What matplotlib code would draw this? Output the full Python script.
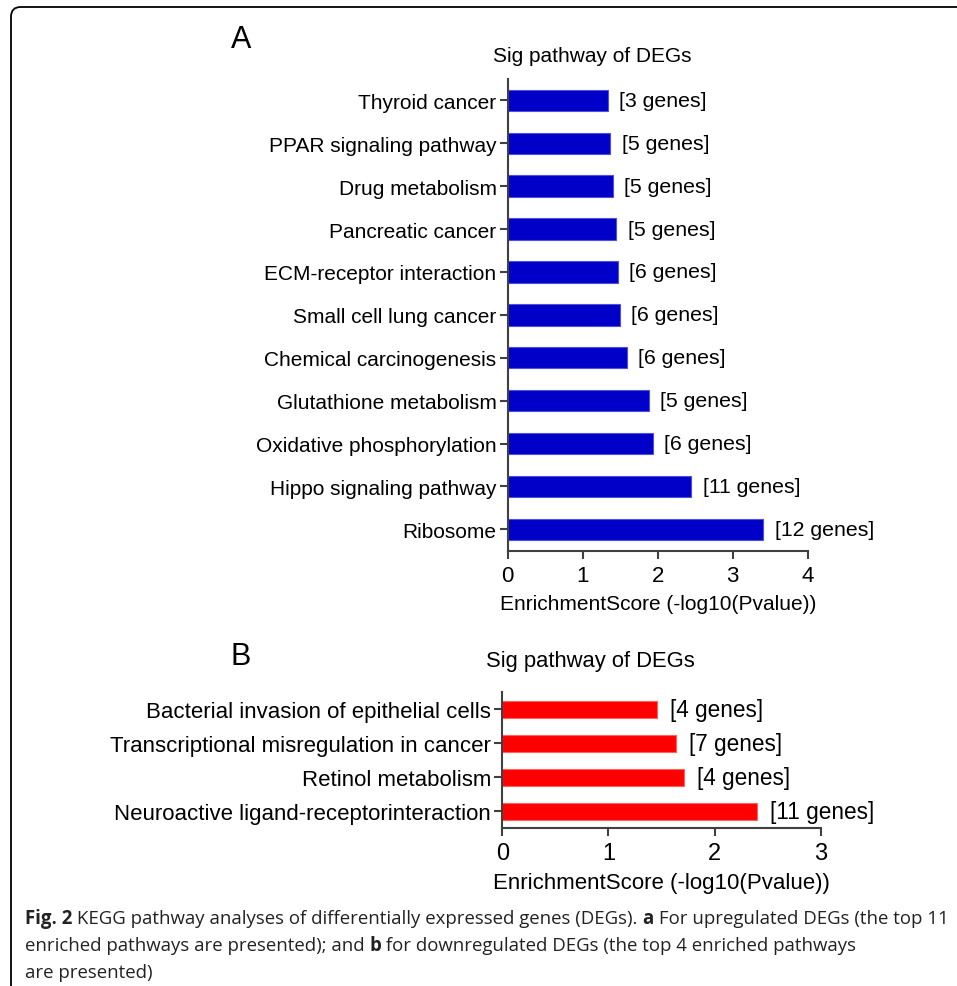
import matplotlib
matplotlib.use("Agg")
import matplotlib.pyplot as plt
from matplotlib.patches import FancyBboxPatch

# ---- data ----
up_pathways = ["Ribosome", "Hippo signaling pathway", "Oxidative phosphorylation",
               "Glutathione metabolism", "Chemical carcinogenesis", "Small cell lung cancer",
               "ECM-receptor interaction", "Pancreatic cancer", "Drug metabolism",
               "PPAR signaling pathway", "Thyroid cancer"]
up_scores = [3.41, 2.45, 1.94, 1.88, 1.59, 1.50, 1.475, 1.45, 1.40, 1.37, 1.34]
up_genes = [12, 11, 6, 5, 6, 6, 6, 5, 5, 5, 3]

down_pathways = ["Neuroactive ligand-receptorinteraction", "Retinol metabolism",
                 "Transcriptional misregulation in cancer",
                 "Bacterial invasion of epithelial cells"]
down_scores = [2.40, 1.715, 1.637, 1.46]
down_genes = [11, 4, 7, 4]

up_ticks = [0, 1, 2, 3, 4]
down_ticks = [0, 1, 2, 3]

W, H = 957, 987
plt.rcParams['font.family'] = ['Liberation Sans', 'DejaVu Sans']
fig = plt.figure(figsize=(W / 100, H / 100), dpi=100)

def px(x, y):
    return x / W, 1 - y / H

axis_col = '#404040'

def make_panel(rect, names, scores, genes, ticks, color, edge, xmax, fs, lab_off):
    ax = fig.add_axes(rect)
    y = list(range(len(names)))
    ax.barh(y, scores, height=0.5, color=color, edgecolor=edge, linewidth=0.8)
    ax.set_ylim(-0.5, len(names) - 0.5)
    ax.set_xlim(0, xmax)
    ax.set_yticks(y)
    ax.set_yticklabels(names, fontsize=fs)
    ax.set_xticks(ticks)
    ax.set_xticklabels([str(t) for t in ticks], fontsize=fs + 1)
    for s in ['top', 'right']:
        ax.spines[s].set_visible(False)
    for s in ['left', 'bottom']:
        ax.spines[s].set_color(axis_col)
        ax.spines[s].set_linewidth(1.5)
    ax.tick_params(axis='both', color=axis_col, width=1.5, length=6, pad=2)
    ax.tick_params(axis='x', pad=4)
    ax.set_xlabel("EnrichmentScore (-log10(Pvalue))", fontsize=fs, labelpad=6)
    for yi, s, g in zip(y, scores, genes):
        ax.annotate(f"[{g} genes]", (s, yi), xytext=(lab_off, 0), textcoords='offset points',
                    va='center', ha='left', fontsize=fs + 0.3)
    return ax

axA = make_panel([0.5305, 0.441, 0.3135, 0.478], up_pathways, up_scores, up_genes,
                 up_ticks, '#0000C8', '#5050E0', 4, 15, 8)
axB = make_panel([0.5249, 0.160, 0.3327, 0.1375], down_pathways, down_scores, down_genes,
                 down_ticks, '#FF0000', '#FF6060', 3, 16, 9)

fig.text(*px(592, 56), "Sig pathway of DEGs", fontsize=15, ha='center', va='center')
fig.text(*px(590, 662), "Sig pathway of DEGs", fontsize=15.8, ha='center', va='center')
fig.text(*px(241, 40), "A", fontsize=22, ha='center', va='center')
fig.text(*px(241, 657), "B", fontsize=22, ha='center', va='center')

# border
box = FancyBboxPatch(px(11, 1000), (W + 40) / W, (1000 - 8) / H,
                     boxstyle="round,pad=0,rounding_size=0.01",
                     transform=fig.transFigure, fill=False, edgecolor='black',
                     linewidth=1.3, clip_on=False)
fig.patches.append(box)

# caption with mixed bold
cap_font = ['Open Sans', 'DejaVu Sans']
cap_fs = 13.4
lines = [
    [("Fig. 2", True), (" KEGG pathway analyses of differentially expressed genes (DEGs). ", False),
     ("a", True), (" For upregulated DEGs (the top 11", False)],
    [("enriched pathways are presented); and ", False), ("b", True),
     (" for downregulated DEGs (the top 4 enriched pathways", False)],
    [("are presented)", False)],
]
line_y = [919, 946, 973]
renderer = fig.canvas.get_renderer()
for segs, yy in zip(lines, line_y):
    x = 25
    for txt, bold in segs:
        t = fig.text(*px(x, yy), txt, fontsize=cap_fs, family=cap_font,
                     fontweight='bold' if bold else 'normal', va='center', ha='left',
                     color='#222222')
        bb = t.get_window_extent(renderer)
        x += bb.width

fig.savefig("out.png", dpi=100)
